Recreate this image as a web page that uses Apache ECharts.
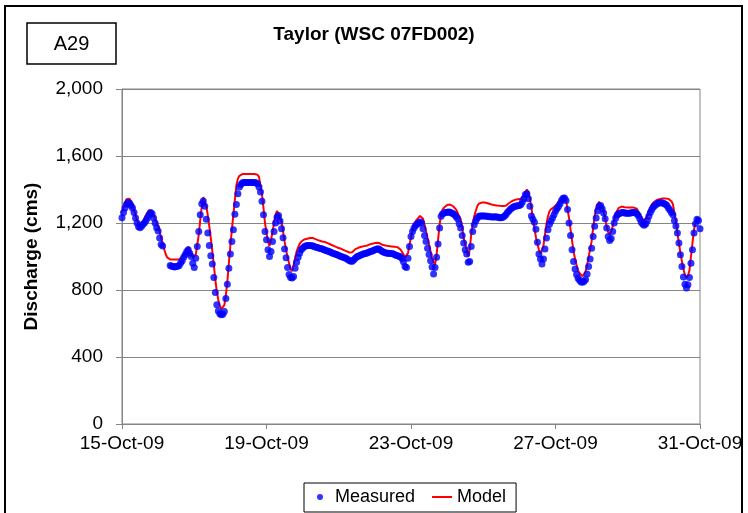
<!DOCTYPE html>
<html>
<head>
<meta charset="utf-8">
<title>Taylor (WSC 07FD002)</title>
<script src="https://cdn.jsdelivr.net/npm/echarts@6/dist/echarts.min.js"></script>
<style>
  html, body { margin: 0; padding: 0; background: #fff; }
  #chart { width: 748px; height: 513px; }
</style>
</head>
<body>
<div id="chart"></div>
<script>
// hourly values, 15-Oct-09 00:00 .. 31-Oct-09 00:00 (one row per day)
const measured = [
  1232,1262,1290,1312,1322,1318,1305,1290,1262,1230,1200,1178,1172,1180,1192,1202,1215,1232,1250,1262,1255,1230,1200,1172,
  1152,1110,1072,1062,null,null,null,null,946,942,940,938,940,942,946,962,975,995,1012,1030,1040,1020,1000,960,
  935,990,1060,1150,1250,1315,1332,1300,1222,1140,1065,1005,955,875,785,712,675,658,652,655,672,750,835,930,
  1015,1090,1160,1252,1310,1375,1415,1430,1440,1442,1442,1442,1442,1442,1442,1442,1442,1440,1435,1415,1385,1330,1250,1150,
  1100,1040,1000,1030,1090,1150,1200,1235,1245,1212,1165,1112,1045,992,935,892,875,872,880,930,965,995,1020,1040,
  1050,1058,1062,1065,1066,1066,1064,1062,1058,1055,1053,1050,1048,1045,1042,1038,1035,1032,1028,1024,1020,1017,1014,1010,
  1006,1002,998,995,992,988,982,976,972,972,980,990,998,1002,1006,1010,1014,1018,1018,1022,1026,1030,1032,1036,
  1040,1044,1046,1044,1036,1030,1025,1022,1020,1020,1018,1018,1016,1012,1008,1005,1002,998,988,968,940,935,990,1060,
  1120,1150,1170,1185,1192,1200,1206,1200,1165,1125,1090,1050,1012,975,938,895,935,995,1075,1170,1240,1255,1260,1262,
  1264,1266,1264,1260,1255,1250,1238,1225,1195,1170,1125,1080,1040,1015,965,970,1060,1150,1190,1212,1228,1240,1242,1242,
  1242,1242,1240,1240,1238,1238,1236,1236,1238,1236,1234,1232,1232,1235,1240,1250,1262,1272,1282,1290,1296,1300,1302,1303,
  1305,1310,1325,1345,1370,1375,1345,1300,1242,1222,1205,1162,1085,1015,985,955,985,1045,1110,1160,1192,1212,1230,1250,
  1270,1285,1298,1315,1335,1348,1350,1335,1280,1200,1125,1040,970,925,892,870,858,848,846,852,862,895,940,985,
  1050,1120,1180,1230,1272,1300,1305,1285,1260,1225,1170,1120,1095,1108,1150,1200,1230,1248,1255,1258,1262,1262,1260,1258,
  1258,1258,1260,1262,1262,1262,1255,1245,1225,1205,1192,1186,1195,1215,1240,1262,1280,1295,1305,1312,1318,1320,1322,1320,
  1316,1312,1305,1290,1278,1262,1250,1215,1182,1140,1080,1010,940,878,835,812,832,875,960,1040,1140,1195,1222,1215,
  1165
];

const model = [
  1265,1295,1320,1342,1352,1345,1330,1310,1280,1245,1215,1200,1192,1195,1210,1230,1248,1262,1275,1280,1270,1248,1225,1205,
  1182,1150,1110,1075,1045,1015,995,985,982,982,982,982,982,982,984,990,1000,1012,1025,1045,1058,1040,1015,995,
  985,1010,1070,1130,1220,1300,1355,1345,1300,1245,1180,1110,1030,950,860,790,740,705,688,684,710,770,850,960,
  1065,1160,1250,1340,1425,1465,1482,1490,1492,1492,1492,1492,1492,1492,1492,1492,1492,1492,1488,1475,1425,1370,1290,1200,
  1142,1088,1062,1100,1145,1200,1250,1272,1272,1240,1205,1150,1090,1040,995,960,925,912,950,990,1030,1055,1075,1088,
  1098,1102,1105,1106,1108,1110,1112,1110,1106,1102,1098,1095,1092,1090,1088,1086,1082,1078,1074,1070,1066,1062,1058,1054,
  1052,1048,1044,1040,1036,1032,1028,1024,1022,1026,1036,1044,1050,1052,1056,1058,1060,1062,1064,1066,1070,1074,1076,1078,
  1080,1082,1082,1080,1074,1070,1067,1066,1064,1062,1062,1060,1060,1058,1058,1056,1052,1042,1028,1012,995,985,1020,1070,
  1115,1160,1190,1210,1222,1232,1242,1246,1225,1190,1150,1110,1072,1030,992,965,952,1010,1100,1190,1250,1280,1292,1302,
  1308,1312,1310,1305,1300,1294,1280,1260,1240,1222,1170,1112,1070,1040,1000,1040,1130,1190,1240,1272,1300,1315,1320,1322,
  1322,1322,1320,1318,1315,1312,1310,1308,1306,1305,1304,1303,1302,1302,1302,1303,1310,1318,1325,1330,1334,1338,1340,1342,
  1342,1345,1352,1362,1385,1400,1385,1345,1290,1225,1170,1115,1075,1040,1015,1020,1065,1130,1195,1240,1270,1282,1290,1296,
  1302,1312,1322,1335,1348,1358,1362,1340,1280,1230,1160,1095,1030,985,950,915,900,890,882,895,910,950,995,1045,
  1090,1170,1235,1290,1312,1326,1322,1300,1270,1225,1180,1145,1132,1150,1180,1220,1255,1275,1290,1296,1298,1296,1294,1292,
  1292,1292,1292,1292,1292,1292,1285,1268,1250,1235,1218,1212,1225,1245,1270,1292,1310,1322,1330,1336,1340,1342,1344,1346,
  1346,1346,1346,1344,1340,1330,1312,1260,1210,1140,1080,1020,970,925,890,872,885,918,1000,1080,1160,1205,1232,1228,
  1220
];

const xTickLabels = ['15-Oct-09', '19-Oct-09', '23-Oct-09', '27-Oct-09', '31-Oct-09'];
const yTickLabels = ['0', '400', '800', '1,200', '1,600', '2,000'];

const HOURS_PER_TICK = 96;
const FONT = '"Liberation Sans", Arial, sans-serif';

// [hour, value] pairs; gaps in the record are left out
const measuredPts = measured.map((v, i) => [i, v]).filter(p => p[1] !== null);
const modelPts = model.map((v, i) => [i, v]);

const chart = echarts.init(document.getElementById('chart'), null, { renderer: 'canvas' });

chart.setOption({
    backgroundColor: '#ffffff',
    animation: false,
    textStyle: { fontFamily: FONT },
    title: {
        text: 'Taylor (WSC 07FD002)',
        left: 'center',
        top: 20,
        textStyle: { fontFamily: FONT, fontSize: 19, fontWeight: 'bold', color: '#000' }
    },
    grid: {
        left: 122, top: 89, width: 578, height: 335,
        show: true, borderColor: '#858585', borderWidth: 1,
        containLabel: false
    },
    xAxis: {
        type: 'value',
        min: 0, max: 384, interval: HOURS_PER_TICK,
        axisLine: { show: true, lineStyle: { color: '#858585', width: 1 } },
        axisTick: { show: true, inside: false, length: 5, lineStyle: { color: '#858585' } },
        splitLine: { show: false },
        axisLabel: {
            margin: 10, fontSize: 19, color: '#000', fontFamily: FONT,
            formatter: v => xTickLabels[Math.round(v / HOURS_PER_TICK)] || ''
        }
    },
    yAxis: {
        type: 'value',
        min: 0, max: 2000, interval: 400,
        name: 'Discharge (cms)',
        nameLocation: 'middle',
        nameGap: 81,
        nameTextStyle: { fontFamily: FONT, fontSize: 19, fontWeight: 'bold', color: '#000' },
        axisLine: { show: true, lineStyle: { color: '#858585', width: 1 } },
        axisTick: { show: true, inside: false, length: 6, lineStyle: { color: '#858585' } },
        splitLine: { show: true, lineStyle: { color: '#858585', width: 1 } },
        axisLabel: {
            margin: 19, fontSize: 19, color: '#000', fontFamily: FONT,
            formatter: v => yTickLabels[Math.round(v / 400)]
        }
    },
    legend: {
        left: 304, top: 483,
        padding: [5, 10, 6, 13],
        borderColor: '#000', borderWidth: 1,
        itemWidth: 20, itemHeight: 6, itemGap: 16,
        textStyle: { fontFamily: FONT, fontSize: 18, color: '#000' },
        data: [
            { name: 'Measured' },
            // line only, no marker in the key
            { name: 'Model', itemStyle: { opacity: 0 } }
        ]
    },
    series: [
        {
            name: 'Model',
            type: 'line',
            data: modelPts,
            showSymbol: false,
            symbol: 'none',
            lineStyle: { color: '#ff0000', width: 2 },
            itemStyle: { color: '#ff0000' },
            z: 2
        },
        {
            name: 'Measured',
            type: 'scatter',
            data: measuredPts,
            symbol: 'circle',
            symbolSize: 7,
            itemStyle: { color: '#0000ff' },
            z: 3
        }
    ],
    graphic: [
        // outer chart frame
        { type: 'rect', shape: { x: 5, y: 6, width: 737, height: 520 },
          style: { fill: 'none', stroke: '#000', lineWidth: 2 }, silent: true },
        // panel tag box
        { type: 'rect', shape: { x: 27, y: 23, width: 89, height: 41 },
          style: { fill: '#fff', stroke: '#000', lineWidth: 1.5 }, silent: true },
        { type: 'text', x: 71.5, y: 44,
          style: { text: 'A29', font: '20px ' + FONT, fill: '#000', align: 'center', verticalAlign: 'middle' },
          silent: true }
    ]
});
</script>
</body>
</html>
